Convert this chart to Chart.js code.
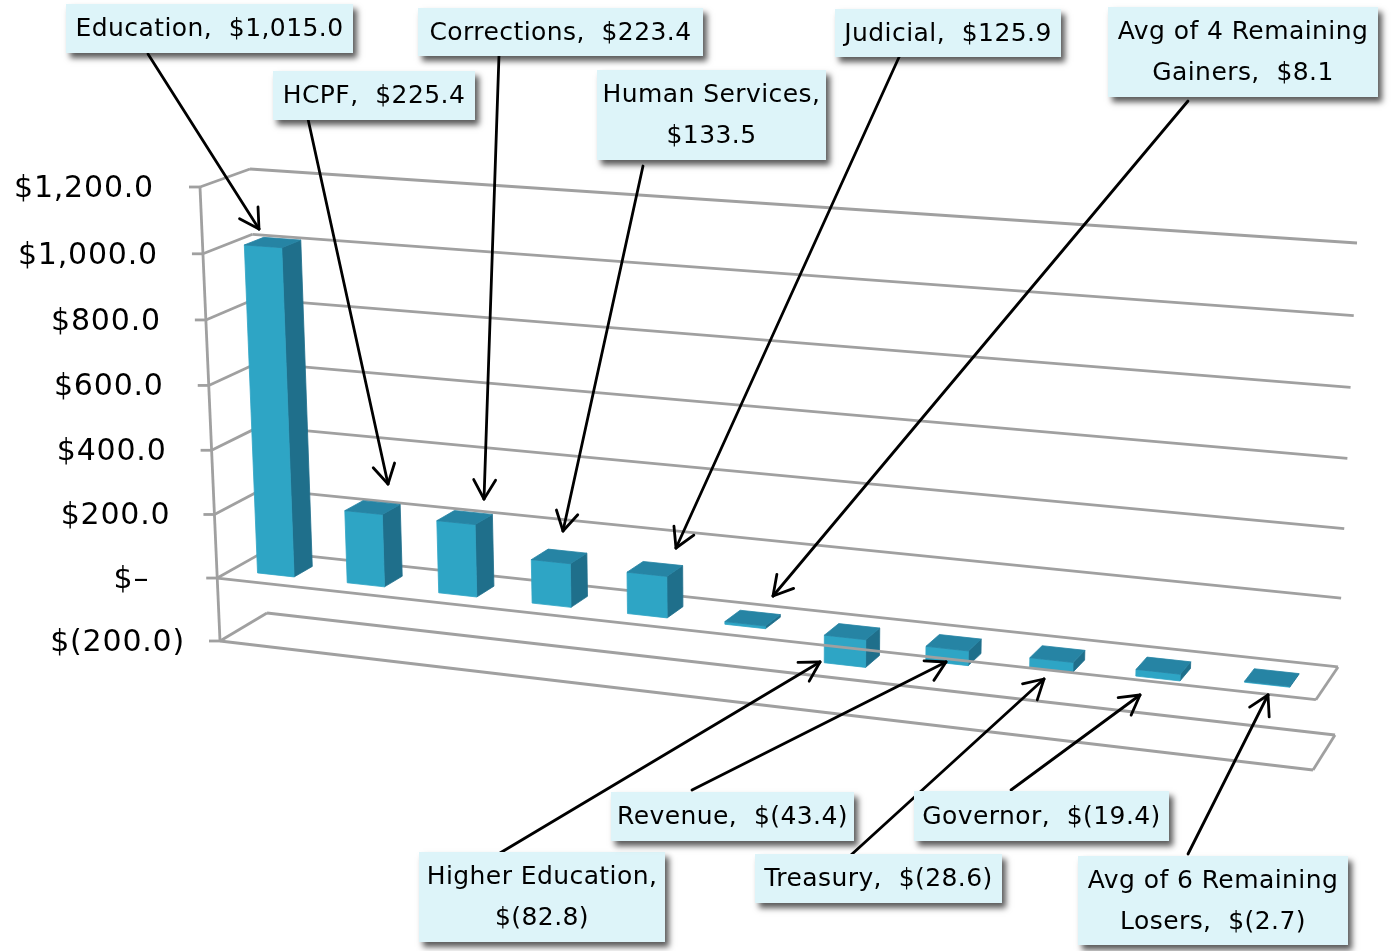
<!DOCTYPE html>
<html>
<head>
<meta charset="utf-8">
<title>Budget change by department</title>
<script src="https://cdn.jsdelivr.net/npm/chart.js@4/dist/chart.umd.min.js"></script>
<style>
    html, body { margin: 0; padding: 0; background: #fff; }
    canvas { display: block; }
</style>
</head>
<body>
<canvas id="budgetChart" width="1393" height="951"></canvas>
<script>
// Chart data
const categories = ['Education', 'HCPF', 'Corrections', 'Human Services', 'Judicial', 'Avg of 4 Remaining Gainers',
    'Higher Education', 'Revenue', 'Treasury', 'Governor', 'Avg of 6 Remaining Losers'];
const changes = [1015.0, 225.4, 223.4, 133.5, 125.9, 8.1, -82.8, -43.4, -28.6, -19.4, -2.7];
const tickValues = [1200, 1000, 800, 600, 400, 200, 0, -200];
const tickLabels = ['$1,200.0', '$1,000.0', '$800.0', '$600.0', '$400.0', '$200.0', '$\u2013', '$(200.0)'];

// Corners of the 3D box in the picture: top-left, top-right, bottom-right, bottom-left
const frontQuad = [[200, 187], [1334, 261], [1313, 770], [220, 641]];
const backQuad = [[250, 169], [1357, 243], [1335, 735], [267, 613]];
const barFrontDepth = 0.3;
const barBackDepth = 0.69;

// Callout boxes, same order as categories: box, leader line, where the text wraps
const callouts = [
    { box: [66, 4, 287, 49], from: [148, 54], to: [259, 229] },
    { box: [273, 71, 202, 49], from: [308, 119], to: [388, 484] },
    { box: [418, 8, 285, 48], from: [499, 55], to: [484, 499] },
    { box: [597, 70, 229, 90], from: [643, 166], to: [563, 531], wrap: 15 },
    { box: [835, 9, 226, 48], from: [900, 55], to: [676, 548] },
    { box: [1108, 7, 270, 90], from: [1188, 101], to: [773, 596], wrap: 18 },
    { box: [419, 852, 246, 90], from: [500, 853], to: [820, 662], wrap: 17 },
    { box: [611, 792, 243, 49], from: [692, 790], to: [946, 662] },
    { box: [755, 854, 247, 49], from: [851, 855], to: [1044, 679] },
    { box: [914, 791, 255, 50], from: [1011, 790], to: [1140, 695] },
    { box: [1078, 856, 270, 89], from: [1188, 854], to: [1268, 695], wrap: 18 }
];

const tickLabelGap = [46, 45, 45, 45, 45, 44, 68, 35];

const gridColor = '#a0a0a0';
const frontColor = '#2ea5c5';
const topColor = '#2684a4';
const sideColor = '#1f6f8b';

function formatMoney(v) {
    const text = Math.abs(v).toLocaleString('en-US', { minimumFractionDigits: 1, maximumFractionDigits: 1 });
    return v < 0 ? '$(' + text + ')' : '$' + text;
}

// Unit square -> quad projective mapping
function makeHomography(q) {
    const dx1 = q[1][0] - q[2][0], dx2 = q[3][0] - q[2][0], sx = q[0][0] - q[1][0] + q[2][0] - q[3][0];
    const dy1 = q[1][1] - q[2][1], dy2 = q[3][1] - q[2][1], sy = q[0][1] - q[1][1] + q[2][1] - q[3][1];
    const det = dx1 * dy2 - dx2 * dy1;
    const g = (sx * dy2 - dx2 * sy) / det;
    const h = (dx1 * sy - sx * dy1) / det;
    const a = q[1][0] - q[0][0] + g * q[1][0], b = q[3][0] - q[0][0] + h * q[3][0], c = q[0][0];
    const d = q[1][1] - q[0][1] + g * q[1][1], e = q[3][1] - q[0][1] + h * q[3][1], f = q[0][1];
    return function(s, t) {
        const w = g * s + h * t + 1;
        return [(a * s + b * t + c) / w, (d * s + e * t + f) / w];
    };
}

const frontMap = makeHomography(frontQuad);
const backMap = makeHomography(backQuad);

// Chart pixel + depth (0 front, 1 back) -> picture position
function project(chart, px, py, depth) {
    const area = chart.chartArea;
    const s = (px - area.left) / (area.right - area.left);
    const t = (py - area.top) / (area.bottom - area.top);
    const p = frontMap(s, t);
    const q = backMap(s, t);
    return [p[0] + (q[0] - p[0]) * depth, p[1] + (q[1] - p[1]) * depth];
}

function strokeLine(ctx, a, b) {
    ctx.beginPath();
    ctx.moveTo(a[0], a[1]);
    ctx.lineTo(b[0], b[1]);
    ctx.stroke();
}

function fillPoly(ctx, pts, color) {
    ctx.fillStyle = color;
    ctx.strokeStyle = color;
    ctx.lineWidth = 0.8;
    ctx.beginPath();
    ctx.moveTo(pts[0][0], pts[0][1]);
    pts.slice(1).forEach(function(p) { ctx.lineTo(p[0], p[1]); });
    ctx.closePath();
    ctx.fill();
    ctx.stroke();
}

const box3dPlugin = {
    id: 'box3d',
    afterDatasetsDraw: function(chart) {
        const ctx = chart.ctx;
        const area = chart.chartArea;
        const yScale = chart.scales.y;
        ctx.save();

        // Walls: gridlines on the back wall, connectors on the side wall, tick stubs and labels
        ctx.strokeStyle = gridColor;
        ctx.lineWidth = 2.8;
        ctx.lineJoin = 'round';
        tickValues.forEach(function(v, i) {
            const y = yScale.getPixelForValue(v);
            const frontLeft = project(chart, area.left, y, 0);
            const backLeft = project(chart, area.left, y, 1);
            const backRight = project(chart, area.right, y, 1);
            strokeLine(ctx, [frontLeft[0] - 11, frontLeft[1]], frontLeft);
            strokeLine(ctx, frontLeft, backLeft);
            strokeLine(ctx, backLeft, backRight);

            ctx.fillStyle = '#000';
            ctx.font = '30px "DejaVu Sans"';
            ctx.letterSpacing = '0.8px';
            ctx.textAlign = 'right';
            ctx.textBaseline = 'middle';
            ctx.fillText(tickLabels[i], frontLeft[0] - tickLabelGap[i], frontLeft[1] + 2);
        });
        strokeLine(ctx, project(chart, area.left, area.top, 0), project(chart, area.left, area.bottom, 0));

        // Bars
        const meta = chart.getDatasetMeta(0);
        meta.data.forEach(function(bar) {
            const l = bar.x - bar.width / 2;
            const r = bar.x + bar.width / 2;
            const hi = Math.min(bar.y, bar.base);
            const lo = Math.max(bar.y, bar.base);
            const d1 = barFrontDepth, d2 = barBackDepth;
            fillPoly(ctx, [project(chart, r, hi, d1), project(chart, r, hi, d2), project(chart, r, lo, d2), project(chart, r, lo, d1)], sideColor);
            fillPoly(ctx, [project(chart, l, lo, d1), project(chart, r, lo, d1), project(chart, r, hi, d1), project(chart, l, hi, d1)], frontColor);
            fillPoly(ctx, [project(chart, l, hi, d1), project(chart, r, hi, d1), project(chart, r, hi, d2), project(chart, l, hi, d2)], topColor);
        });

        // Floor edges at the value axis crossing and at the axis minimum
        ctx.strokeStyle = gridColor;
        ctx.lineWidth = 2.8;
        [0, -200].forEach(function(v) {
            const y = yScale.getPixelForValue(v);
            strokeLine(ctx, project(chart, area.left, y, 0), project(chart, area.right, y, 0));
            strokeLine(ctx, project(chart, area.right, y, 0), project(chart, area.right, y, 1));
        });

        // Leader lines with open arrow heads
        ctx.strokeStyle = '#000';
        ctx.lineWidth = 2.8;
        ctx.lineCap = 'round';
        callouts.forEach(function(c) {
            strokeLine(ctx, c.from, c.to);
            const angle = Math.atan2(c.to[1] - c.from[1], c.to[0] - c.from[0]);
            [-0.52, 0.52].forEach(function(off) {
                strokeLine(ctx, c.to, [c.to[0] - 22 * Math.cos(angle + off), c.to[1] - 22 * Math.sin(angle + off)]);
            });
        });

        // Callout boxes
        ctx.font = '25px "DejaVu Sans"';
        ctx.letterSpacing = '0.42px';
        ctx.textAlign = 'center';
        ctx.textBaseline = 'middle';
        callouts.forEach(function(c, i) {
            const b = c.box;
            ctx.save();
            ctx.shadowColor = 'rgba(0,0,0,0.65)';
            ctx.shadowBlur = 6;
            ctx.shadowOffsetX = 4;
            ctx.shadowOffsetY = 5;
            ctx.fillStyle = '#ddf4f9';
            ctx.fillRect(b[0], b[1], b[2], b[3]);
            ctx.restore();

            const text = categories[i] + ',  ' + formatMoney(changes[i]);
            const cx = b[0] + b[2] / 2;
            const cy = b[1] + b[3] / 2 + 1;
            ctx.fillStyle = '#000';
            if (c.wrap) {
                ctx.fillText(text.slice(0, c.wrap).trim(), cx, cy - 20.5);
                ctx.fillText(text.slice(c.wrap).trim(), cx, cy + 20.5);
            } else {
                ctx.fillText(text, cx, cy);
            }
        });
        ctx.restore();
    }
};

document.addEventListener('DOMContentLoaded', function() {
    new Chart(document.getElementById('budgetChart').getContext('2d'), {
        type: 'bar',
        data: {
            labels: categories,
            datasets: [{
                label: 'Change',
                data: changes,
                backgroundColor: 'transparent',
                categoryPercentage: 1,
                barPercentage: 0.41
            }]
        },
        options: {
            responsive: false,
            animation: false,
            layout: { padding: 0 },
            plugins: {
                legend: { display: false },
                tooltip: { enabled: false }
            },
            scales: {
                x: { display: false },
                y: { display: false, min: -200, max: 1200, ticks: { stepSize: 200 } }
            }
        },
        plugins: [box3dPlugin]
    });
});
</script>
</body>
</html>
